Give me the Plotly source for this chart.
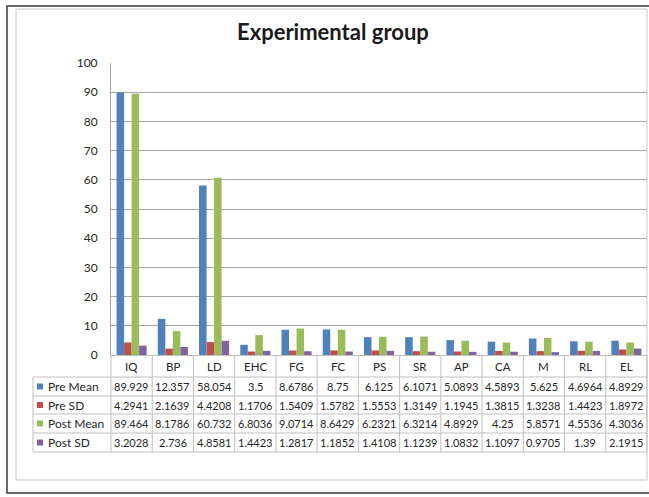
import plotly.graph_objects as go

categories = ["IQ", "BP", "LD", "EHC", "FG", "FC", "PS", "SR", "AP", "CA", "M", "RL", "EL"]
pre_mean = [89.929, 12.357, 58.054, 3.5, 8.6786, 8.75, 6.125, 6.1071, 5.0893, 4.5893, 5.625, 4.6964, 4.8929]
pre_sd = [4.2941, 2.1639, 4.4208, 1.1706, 1.5409, 1.5782, 1.5553, 1.3149, 1.1945, 1.3815, 1.3238, 1.4423, 1.8972]
post_mean = [89.464, 8.1786, 60.732, 6.8036, 9.0714, 8.6429, 6.2321, 6.3214, 4.8929, 4.25, 5.8571, 4.5536, 4.3036]
post_sd = [3.2028, 2.736, 4.8581, 1.4423, 1.2817, 1.1852, 1.4108, 1.1239, 1.0832, 1.1097, 0.9705, 1.39, 2.1915]
series_names = ["Pre Mean", "Pre SD", "Post Mean", "Post SD"]
series_labels = [["89.929", "12.357", "58.054", "3.5", "8.6786", "8.75", "6.125", "6.1071", "5.0893", "4.5893", "5.625", "4.6964", "4.8929"],
                 ["4.2941", "2.1639", "4.4208", "1.1706", "1.5409", "1.5782", "1.5553", "1.3149", "1.1945", "1.3815", "1.3238", "1.4423", "1.8972"],
                 ["89.464", "8.1786", "60.732", "6.8036", "9.0714", "8.6429", "6.2321", "6.3214", "4.8929", "4.25", "5.8571", "4.5536", "4.3036"],
                 ["3.2028", "2.736", "4.8581", "1.4423", "1.2817", "1.1852", "1.4108", "1.1239", "1.0832", "1.1097", "0.9705", "1.39", "2.1915"]]
colors = ["#4F81BD", "#C0504D", "#9BBB59", "#8064A2"]

W, H = 649, 497
L, R, T, B = 111, 647, 63, 355  # plot area in pixels

def px(x):
    return (x - L) / (R - L)

def py(y):
    return (B - y) / (B - T)

fig = go.Figure()
for name, vals, c in zip(series_names, [pre_mean, pre_sd, post_mean, post_sd], colors):
    fig.add_trace(go.Bar(x=categories, y=vals, name=name, marker=dict(color=c, line=dict(width=0))))

shapes = []
ann = []
font = "Lato, 'Open Sans', sans-serif"
grid = "#a6a6a6"
tline = "#bfbfbf"

# frames
shapes.append(dict(type="rect", xref="paper", yref="paper", x0=px(7), x1=px(700), y0=py(493), y1=py(6),
                   line=dict(color="#3a3a3a", width=1.5), layer="below"))
shapes.append(dict(type="rect", xref="paper", yref="paper", x0=px(16), x1=px(647), y0=py(480), y1=py(9),
                   line=dict(color="#c8c8c8", width=1), layer="below"))

# table
n = len(categories)
colw = (R - L) / n
row_lines = [377, 396, 414, 433, 452]
for yl in row_lines:
    shapes.append(dict(type="line", xref="paper", yref="paper", x0=px(33), x1=px(R), y0=py(yl), y1=py(yl),
                       line=dict(color=tline, width=1)))
shapes.append(dict(type="line", xref="paper", yref="paper", x0=px(33), x1=px(33), y0=py(377), y1=py(452),
                   line=dict(color=tline, width=1)))
for k in range(n + 1):
    xx = L + k * colw
    shapes.append(dict(type="line", xref="paper", yref="paper", x0=px(xx), x1=px(xx), y0=py(B), y1=py(452),
                       line=dict(color=tline, width=1)))

row_centers = [386.5, 405, 423.5, 442.5]
for i, cat in enumerate(categories):
    xc = L + (i + 0.5) * colw
    ann.append(dict(x=px(xc), y=py(366), xref="paper", yref="paper", text=cat, showarrow=False,
                    font=dict(family=font, size=11.5, color="#262626"), xanchor="center", yanchor="middle"))
    for r in range(4):
        ann.append(dict(x=px(xc), y=py(row_centers[r]), xref="paper", yref="paper", text=series_labels[r][i],
                        showarrow=False, font=dict(family=font, size=11, color="#262626"),
                        xanchor="center", yanchor="middle"))

for r, (name, c) in enumerate(zip(series_names, colors)):
    yc = row_centers[r]
    shapes.append(dict(type="rect", xref="paper", yref="paper", x0=px(37), x1=px(43), y0=py(yc + 3), y1=py(yc - 3),
                       fillcolor=c, line=dict(width=0)))
    ann.append(dict(x=px(46), y=py(yc), xref="paper", yref="paper", text=name, showarrow=False,
                    font=dict(family=font, size=12, color="#262626"), xanchor="left", yanchor="middle"))

ann.append(dict(x=px(333), y=py(32), xref="paper", yref="paper", text="<b>Experimental group</b>", showarrow=False,
                font=dict(family=font, size=22, color="#1a1a1a"), xanchor="center", yanchor="middle"))

fig.update_layout(
    width=W, height=H,
    margin=dict(l=L, r=W - R, t=T, b=H - B, pad=0),
    paper_bgcolor="white", plot_bgcolor="white",
    barmode="group", bargap=0.27, bargroupgap=0,
    showlegend=False,
    shapes=shapes, annotations=ann,
    xaxis=dict(showticklabels=False, showline=True, linecolor=tline, linewidth=1, ticks="",
               showgrid=False, range=[-0.5, n - 0.5]),
    yaxis=dict(range=[0, 100], dtick=10, showgrid=True, gridcolor=grid, gridwidth=1, zeroline=False,
               showline=True, linecolor=grid, linewidth=1, ticks="", ticklabelstandoff=10,
               tickfont=dict(family=font, size=12, color="#262626")),
)

fig.write_html("out.html", config={"displayModeBar": False},
               post_script="document.body.style.margin='0';document.body.style.overflow='hidden';")
